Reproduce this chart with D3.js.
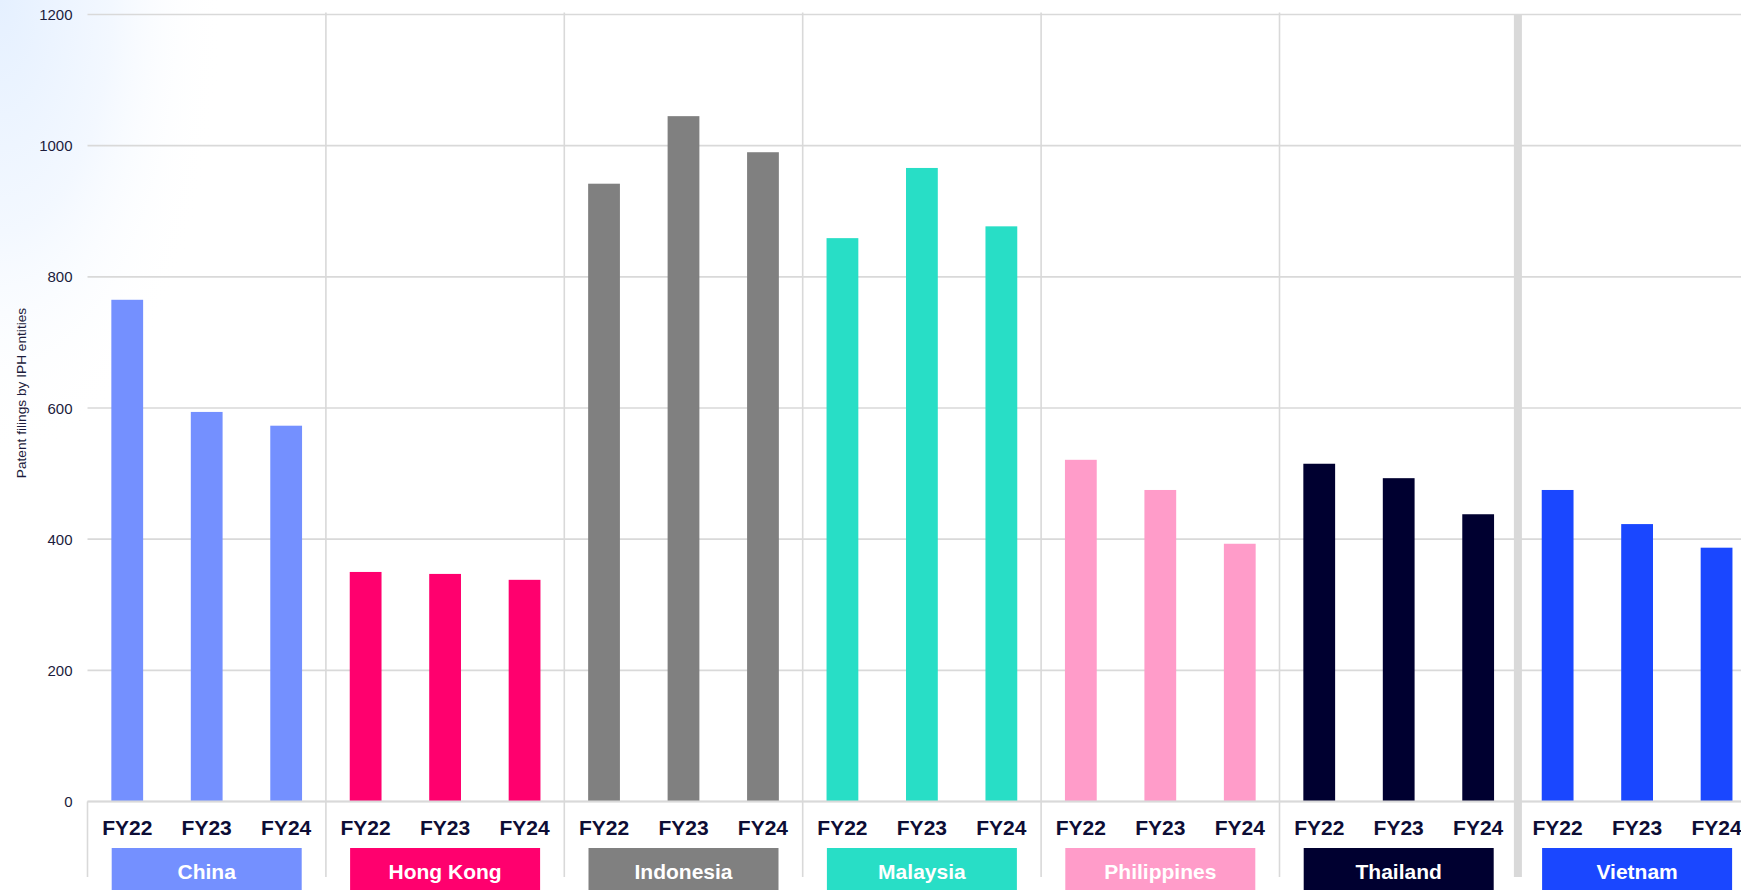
<!DOCTYPE html>
<html>
<head>
<meta charset="utf-8">
<title>Patent filings by IPH entities</title>
<script src="https://cdn.jsdelivr.net/npm/d3@7"></script>
<style>
  html, body { margin: 0; padding: 0; background: #ffffff; }
  svg { display: block; font-family: "Liberation Sans", Arial, sans-serif; }
</style>
</head>
<body>
<svg id="chart" width="1741" height="890"></svg>
<script>
// Patent filings by IPH entities, per jurisdiction and financial year
const countries = ["China", "Hong Kong", "Indonesia", "Malaysia", "Philippines", "Thailand", "Vietnam"];
const years = ["FY22", "FY23", "FY24"];
const chinaValues       = [765, 594, 573];
const hongKongValues    = [350, 347, 338];
const indonesiaValues   = [942, 1045, 990];
const malaysiaValues    = [859, 966, 877];
const philippinesValues = [521, 475, 393];
const thailandValues    = [515, 493, 438];
const vietnamValues     = [475, 423, 387];
const countryColors = ["#7490ff", "#ff006e", "#808080", "#28dec6", "#ff9cc9", "#000030", "#1a47ff"];
const yTickValues = [0, 200, 400, 600, 800, 1000, 1200];
const yTitle = "Patent filings by IPH entities";

const seriesByCountry = [chinaValues, hongKongValues, indonesiaValues, malaysiaValues,
                         philippinesValues, thailandValues, vietnamValues];
const rows = [];
countries.forEach((c, i) => years.forEach((yr, j) => rows.push({ country: c, year: yr, value: seriesByCountry[i][j], color: countryColors[i] })));

const W = 1741, H = 890;
const svg = d3.select("#chart");

// soft blue wash in the top-left corner
const defs = svg.append("defs");
const rg = defs.append("radialGradient").attr("id", "wash")
  .attr("gradientUnits", "userSpaceOnUse").attr("cx", 0).attr("cy", 0).attr("r", 320)
  .attr("gradientTransform", "scale(0.7,1.45)");
rg.append("stop").attr("offset", 0).attr("stop-color", "#e5f0ff");
rg.append("stop").attr("offset", 0.5).attr("stop-color", "#f3f8ff");
rg.append("stop").attr("offset", 1).attr("stop-color", "#ffffff").attr("stop-opacity", 0);
svg.append("rect").attr("width", W).attr("height", H).attr("fill", "#ffffff");
svg.append("rect").attr("width", W).attr("height", H).attr("fill", "url(#wash)");

const plotLeft = 87.5;
const groupWidth = 238.4;
const x0 = d3.scaleBand().domain(countries).range([plotLeft, plotLeft + groupWidth * countries.length]).padding(0);
const x1 = d3.scaleBand().domain(years).range([0, x0.bandwidth()]).paddingInner(0.6).paddingOuter(0.3);
const y = d3.scaleLinear().domain([0, 1200]).range([801.5, 14.5]);

const gridColor = "#d9d9d9";
const textColor = "#1c1c3c";
const navy = "#0d0d35";

// horizontal gridlines
svg.append("g").selectAll("line").data(yTickValues).join("line")
  .attr("x1", plotLeft).attr("x2", W)
  .attr("y1", d => y(d)).attr("y2", d => y(d))
  .attr("stroke", gridColor).attr("stroke-width", 1.6);

// value axis labels
const yAxis = d3.axisLeft(y).tickValues(yTickValues).tickSize(0).tickPadding(0).tickFormat(d3.format("d"));
const yg = svg.append("g").attr("transform", "translate(72.5,0)").call(yAxis);
yg.select(".domain").remove();
yg.selectAll("text").attr("fill", textColor).attr("font-size", 15)
  .attr("font-family", "'Liberation Sans', Arial, sans-serif").attr("dy", "0.34em");

// axis title
svg.append("text")
  .attr("transform", "translate(25.5,393) rotate(-90)")
  .attr("text-anchor", "middle").attr("font-size", 13.7).attr("fill", textColor)
  .text(yTitle);

// group separators
const seps = countries.slice(1);
svg.append("g").selectAll("line").data(seps).join("line")
  .attr("x1", d => x0(d)).attr("x2", d => x0(d))
  .attr("y1", d => d === "Vietnam" ? 15 : 12.5).attr("y2", 877)
  .attr("stroke", gridColor).attr("stroke-width", d => d === "Vietnam" ? 8 : 1.6);
svg.append("line").attr("x1", plotLeft).attr("x2", plotLeft).attr("y1", y(0)).attr("y2", 877)
  .attr("stroke", gridColor).attr("stroke-width", 1.6);

// bars
svg.append("g").selectAll("rect").data(rows).join("rect")
  .attr("x", d => x0(d.country) + x1(d.year))
  .attr("width", x1.bandwidth())
  .attr("y", d => y(d.value))
  .attr("height", d => y(0) - y(d.value))
  .attr("fill", d => d.color);

// category baseline
svg.append("line").attr("x1", plotLeft).attr("x2", W).attr("y1", y(0)).attr("y2", y(0))
  .attr("stroke", gridColor).attr("stroke-width", 2);

// year labels
svg.append("g").selectAll("text").data(rows).join("text")
  .attr("x", d => x0(d.country) + x1(d.year) + x1.bandwidth() / 2)
  .attr("y", 834.5)
  .attr("text-anchor", "middle").attr("font-size", 21).attr("font-weight", "bold").attr("fill", navy)
  .text(d => d.year);

// country label boxes
const boxW = 190;
const boxes = svg.append("g").selectAll("g").data(countries).join("g")
  .attr("transform", d => `translate(${x0(d) + x0.bandwidth() / 2},0)`);
boxes.append("rect")
  .attr("x", -boxW / 2).attr("width", boxW).attr("y", 848).attr("height", 60)
  .attr("fill", (d, i) => countryColors[i]);
boxes.append("text")
  .attr("y", 878.5).attr("text-anchor", "middle").attr("font-size", 21).attr("font-weight", "bold")
  .attr("fill", "#ffffff").text(d => d);
</script>
</body>
</html>
